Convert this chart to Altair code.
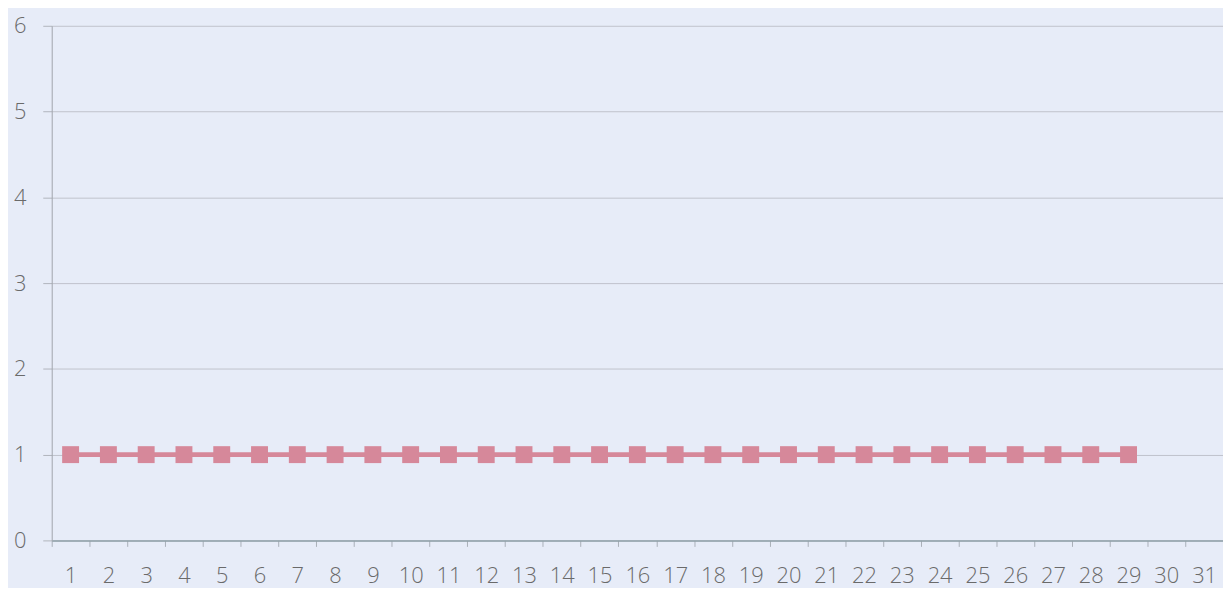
import altair as alt
import pandas as pd

days = [str(i) for i in range(1, 32)]
values = [1.0] * 29 + [None, None]

df = pd.DataFrame({"day": days, "value": values})

x = alt.X("day:O", sort=days,
          scale=alt.Scale(domain=days, paddingInner=0, paddingOuter=0),
          axis=alt.Axis(title=None, labelAngle=0, tickBand="extent",
                        labelFont="Open Sans", labelFontSize=22, labelFontWeight=300,
                        labelColor="#6a6a6a",
                        labelPadding=19, tickSize=6, tickColor="#a9afb8",
                        domainColor="#8fa0a8", domainWidth=1.5, grid=False))
y = alt.Y("value:Q",
          scale=alt.Scale(domain=[0, 6], nice=False, zero=True),
          axis=alt.Axis(title=None, values=[0, 1, 2, 3, 4, 5, 6], tickSize=9,
                        labelFont="Open Sans", labelFontSize=22, labelFontWeight=300,
                        labelColor="#6a6a6a",
                        labelPadding=17, tickColor="#b0b4bc", domainColor="#a0a4ac",
                        grid=True, gridColor="#bfc3cc", gridWidth=1))

base = alt.Chart(df).encode(x=x, y=y)
line = base.mark_line(color="#d6889a", strokeWidth=5)
pts = base.mark_point(shape="square", filled=True, size=290, color="#d6889a", opacity=1)

chart = (line + pts).properties(
    width=1179, height=518,
    background="#e7ecf8",
    padding={"left": 44, "top": 16, "right": 0, "bottom": 46},
    autosize=alt.AutoSizeParams(type="none"),
).configure_view(stroke=None)

chart.save("out.html", embed_options={"renderer": "svg", "actions": False})
